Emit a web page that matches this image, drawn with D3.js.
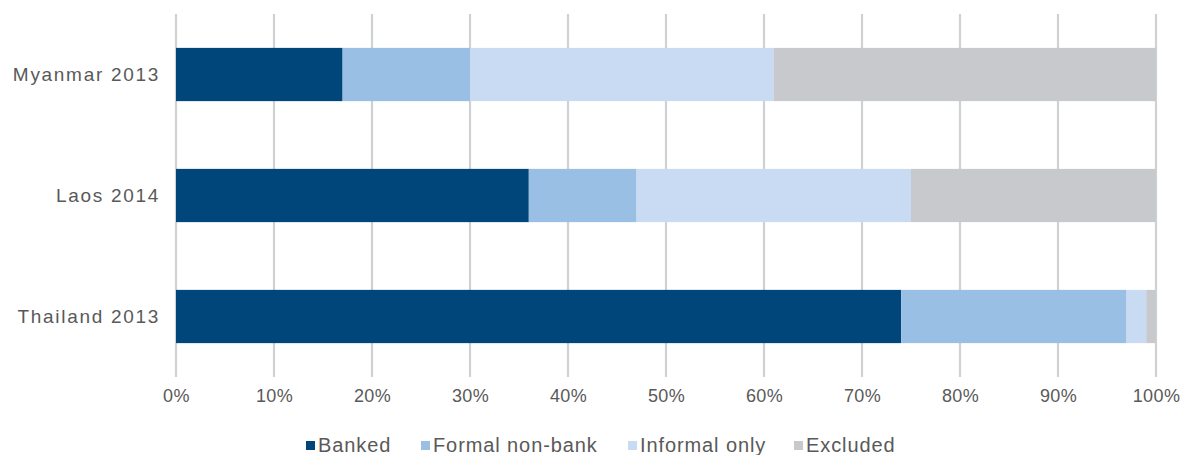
<!DOCTYPE html>
<html><head><meta charset="utf-8">
<script src="https://cdn.jsdelivr.net/npm/d3@7"></script>
<style>body{margin:0;background:#fff}svg text{font-family:"Liberation Sans",Arial,sans-serif;fill:#595959}</style>
</head><body>
<svg id="c" width="1181" height="455"></svg>
<script>
const categories = ["Myanmar 2013", "Laos 2014", "Thailand 2013"];
const seriesNames = ["Banked", "Formal non-bank", "Informal only", "Excluded"];
const banked = [17, 36, 74];
const formalNonBank = [13, 11, 23];
const informalOnly = [31, 28, 2];
const excluded = [39, 25, 1];
const tickValues = [0,10,20,30,40,50,60,70,80,90,100];
const colors = ["#00467A", "#9ABFE5", "#C9DBF2", "#C7C9CC"];

const seriesVals = [banked, formalNonBank, informalOnly, excluded];
const rows = categories.map((c,i)=>{const o={cat:c}; seriesNames.forEach((s,j)=>o[s]=seriesVals[j][i]); return o;});
const stack = d3.stack().keys(seriesNames)(rows);

const svg = d3.select("#c");
const x = d3.scaleLinear().domain([0,100]).range([176,1156]);
const y = d3.scaleBand().domain(categories).range([14,377]).paddingInner(0.56).paddingOuter(0.28);

// gridlines
svg.append("g").selectAll("line").data(tickValues).join("line")
  .attr("x1",d=>x(d)).attr("x2",d=>x(d)).attr("y1",14).attr("y2",377)
  .attr("stroke","#D0D1D3").attr("stroke-width",2.2);

// bars
svg.append("g").selectAll("g").data(stack).join("g").attr("fill",(d,i)=>colors[i])
  .selectAll("rect").data(d=>d).join("rect")
  .attr("x",d=>x(d[0])).attr("width",d=>x(d[1])-x(d[0]))
  .attr("y",d=>y(d.data.cat)).attr("height",y.bandwidth());

// x axis labels
const xa = svg.append("g").attr("transform","translate(0,377)")
  .call(d3.axisBottom(x).tickValues(tickValues).tickFormat(d=>d+"%").tickSize(0).tickPadding(12));
xa.select(".domain").remove();
xa.selectAll("text").attr("font-size",18).attr("fill","#595959").style("font-family","Liberation Sans, Arial, sans-serif").attr("letter-spacing","0.4px");

// y axis labels
const ya = svg.append("g").attr("transform","translate(160,0)")
  .call(d3.axisLeft(y).tickSize(0).tickPadding(0));
ya.select(".domain").remove();
ya.selectAll("text").attr("font-size",19).attr("fill","#595959").style("font-family","Liberation Sans, Arial, sans-serif").attr("letter-spacing","1.7px");

// legend
const legX = [306, 421, 628, 794];
const lg = svg.append("g").selectAll("g").data(seriesNames).join("g")
  .attr("transform",(d,i)=>`translate(${legX[i]},445)`);
lg.append("rect").attr("x",0).attr("y",-4).attr("width",9).attr("height",9).attr("fill",(d,i)=>colors[i]);
lg.append("text").attr("x",12).attr("y",0).attr("dy","0.36em").attr("font-size",20).attr("letter-spacing","0.9px").text(d=>d);
</script>
</body></html>
